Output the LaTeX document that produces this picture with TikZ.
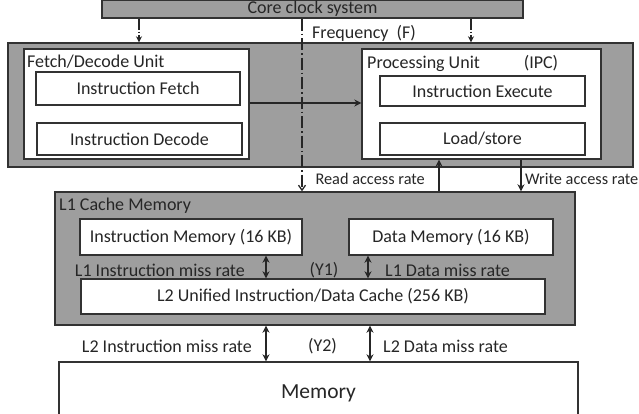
\documentclass[tikz,border=0pt]{standalone}
\usepackage{fontspec}
\setmainfont{Carlito}
\usetikzlibrary{arrows.meta}
\definecolor{boxgray}{RGB}{158,158,158}
\definecolor{edge}{RGB}{50,50,50}
\definecolor{txt}{RGB}{38,38,38}
\tikzset{
  every node/.style={text=txt},
  box/.style={draw=edge, line width=1.4pt, inner sep=0pt, font=\fontsize{18}{21}\selectfont},
  graybox/.style={box, fill=boxgray},
  whitebox/.style={box, fill=white},
  lbl/.style={inner sep=0pt, font=\fontsize{18}{21}\selectfont},
  slbl/.style={inner sep=0pt, font=\fontsize{16.3}{19}\selectfont},
  arr/.style={draw=black!85, line width=1.5pt, -{Stealth[length=7pt,width=7pt]}},
  darr/.style={draw=black!85, line width=1.5pt, {Stealth[length=7pt,width=7pt]}-{Stealth[length=7pt,width=7pt]}},
  clk/.style={draw=black!85, line width=1.3pt, dash pattern=on 11pt off 2pt on 1.5pt off 2pt, -{Stealth[length=6pt,width=6pt]}},
  dd/.style={draw=black!85, line width=1.3pt, dash pattern=on 12pt off 3pt on 1.5pt off 3pt, -{Straight Barb[length=5pt,width=7pt]}},
}
\begin{document}
\begin{tikzpicture}[x=1pt,y=-1pt]
\useasboundingbox (0,0) rectangle (639,414);
\clip (0,0) rectangle (639,414);
% core clock
\node[graybox, minimum width=421pt, minimum height=18pt] (clock) at (312.5,9) {Core clock system};
% big gray
\node[graybox, minimum width=625pt, minimum height=124pt] (big) at (320.5,105) {};
\node[whitebox, minimum width=225pt, minimum height=110pt] (fdu) at (136.5,104) {};
\node[lbl, anchor=west] (fdul) at (27,61.5) {Fetch/Decode Unit};
\node[whitebox, minimum width=204pt, minimum height=33pt] (ifetch) at (138,88.5) {Instruction Fetch};
\node[whitebox, minimum width=205pt, minimum height=32pt] (idecode) at (139.5,139) {Instruction Decode};
\node[whitebox, minimum width=239pt, minimum height=110pt] (pu) at (481.5,104) {};
\node[lbl, anchor=west] (pul) at (367,63.5) {Processing Unit};
\node[lbl] (ipc) at (541,63.5) {(IPC)};
\node[whitebox, minimum width=205pt, minimum height=30pt] (iexec) at (482.5,91) {Instruction Execute};
\node[whitebox, minimum width=205pt, minimum height=32pt] (ls) at (482.5,139) {Load/store};
% L1 cache
\node[graybox, minimum width=520pt, minimum height=133pt] (l1) at (315,258.5) {};
\node[lbl, anchor=west] (l1l) at (59,206) {L1 Cache Memory};
\node[whitebox, minimum width=222pt, minimum height=36pt] (imem) at (191,237) {Instruction Memory (16 KB)};
\node[whitebox, minimum width=204pt, minimum height=36pt] (dmem) at (451,237) {Data Memory (16 KB)};
\node[whitebox, minimum width=464pt, minimum height=35pt] (l2) at (313,296.5) {L2 Unified Instruction/Data Cache (256 KB)};
% memory
\node[whitebox, minimum width=519pt, minimum height=60pt, text height=13.8pt, text depth=0pt, font=\fontsize{21.5}{25}\selectfont] (mem) at (318.5,392) {Memory};
% labels
\node[lbl, anchor=west] (freq) at (312,33) {Frequency~~(F)};
\node[slbl, anchor=east] (read) at (425,178.5) {Read access rate};
\node[slbl, anchor=west] (write) at (525,178.5) {Write access rate};
\node[lbl, anchor=east] (l1im) at (245,270) {L1 Instruction miss rate};
\node[lbl] (y1) at (324,270) {(Y1)};
\node[lbl, anchor=west] (l1dm) at (385,270) {L1 Data miss rate};
\node[lbl, anchor=east] (l2im) at (252,346) {L2 Instruction miss rate};
\node[lbl] (y2) at (322.5,346) {(Y2)};
\node[lbl, anchor=west] (l2dm) at (383,346) {L2 Data miss rate};
% guide coordinates
\coordinate (c1) at (139,0);
\coordinate (c2) at (471,0);
\coordinate (c3) at (302,0);
\coordinate (c4) at (0,103);
\coordinate (c5) at (439,0);
\coordinate (c6) at (521,0);
\coordinate (c7) at (266,0);
\coordinate (c8) at (368,0);
\coordinate (c9) at (370,0);
% connectors
\draw[clk] (clock.south -| c1) -- (big.north -| c1);
\draw[clk] (clock.south -| c2) -- (big.north -| c2);
\draw[dd] (clock.south -| c3) -- (l1.north -| c3);
\draw[arr] (fdu.east |- c4) -- (pu.west |- c4);
\draw[arr] (l1.north -| c5) -- (pu.south -| c5);
\draw[arr] (pu.south -| c6) -- (l1.north -| c6);
\draw[darr] (imem.south -| c7) -- (l2.north -| c7);
\draw[darr] (dmem.south -| c8) -- (l2.north -| c8);
\draw[darr] (l1.south -| c7) -- (mem.north -| c7);
\draw[darr] (l1.south -| c9) -- (mem.north -| c9);
\end{tikzpicture}
\end{document}
